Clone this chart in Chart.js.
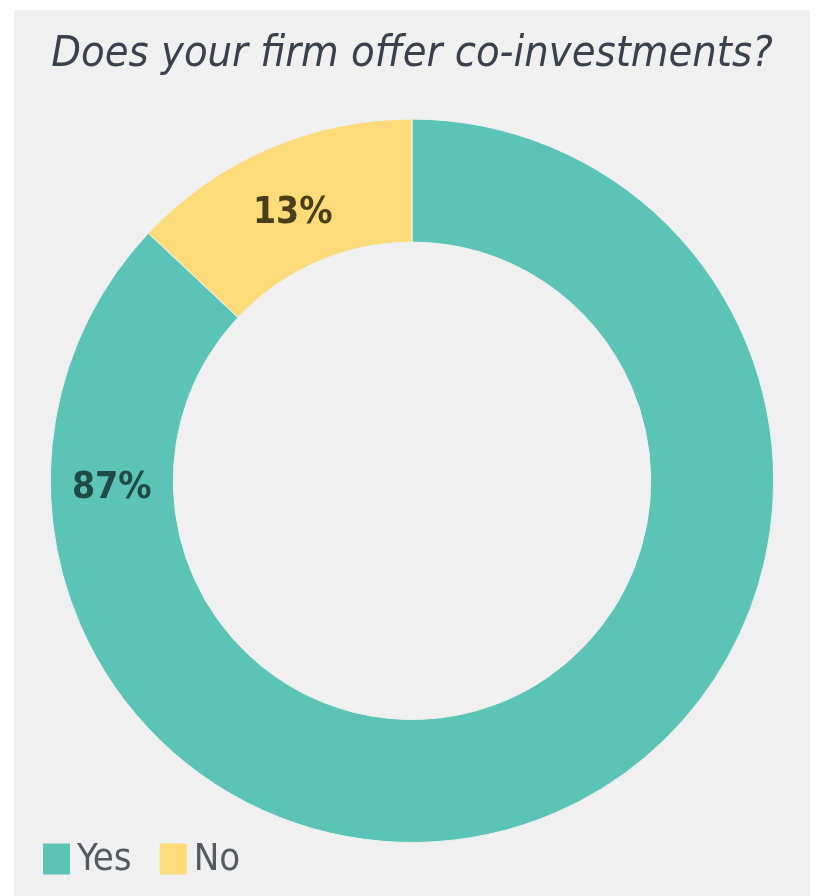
<!DOCTYPE html>
<html>
<head>
<meta charset="utf-8">
<script src="https://cdn.jsdelivr.net/npm/chart.js@4.4.1/dist/chart.umd.min.js"></script>
<style>
  html, body { margin: 0; padding: 0; background: #ffffff; }
  #wrap { width: 837px; height: 896px; position: relative; }
</style>
</head>
<body>
<div id="wrap"><canvas id="c" width="837" height="896"></canvas></div>
<script>
// Survey answers
const categories = ['Yes', 'No'];
const shares = [87, 13];
const valueLabels = ['87%', '13%'];
const sliceColors = ['#5cc4b6', '#fcdb78'];

const NARROW = '"Liberation Sans Narrow", "DejaVu Sans Condensed", "Liberation Sans", sans-serif';

// light grey card behind the chart
const cardPlugin = {
  id: 'card',
  beforeDraw(chart, args, opts) {
    const ctx = chart.ctx;
    ctx.save();
    ctx.fillStyle = opts.color;
    ctx.fillRect(opts.left, opts.top, chart.width - opts.left - opts.right, chart.height - opts.top);
    ctx.restore();
  }
};

// percentage text placed on the ring, at the slice's middle angle
// unless a fixed angle is given for that slice
const ringLabels = {
  id: 'ringLabels',
  afterDatasetsDraw(chart, args, opts) {
    const ctx = chart.ctx;
    const meta = chart.getDatasetMeta(0);
    ctx.save();
    ctx.font = opts.font;
    ctx.textAlign = 'center';
    ctx.textBaseline = 'middle';
    meta.data.forEach((arc, i) => {
      const p = arc.getProps(['x', 'y', 'startAngle', 'endAngle', 'innerRadius', 'outerRadius'], true);
      const fixed = opts.angles[i];
      const a = fixed == null ? (p.startAngle + p.endAngle) / 2 : fixed;
      const r = (p.innerRadius + p.outerRadius) / 2;
      ctx.fillStyle = opts.colors[i];
      ctx.fillText(valueLabels[i], p.x + Math.cos(a) * r + opts.dx, p.y + Math.sin(a) * r + opts.dy);
    });
    ctx.restore();
  }
};

// square-swatch legend in the lower left corner
const cornerLegend = {
  id: 'cornerLegend',
  afterDraw(chart, args, opts) {
    const ctx = chart.ctx;
    const ds = chart.data.datasets[0];
    ctx.save();
    ctx.font = opts.font;
    ctx.textBaseline = 'middle';
    let x = opts.x;
    chart.data.labels.forEach((lab, i) => {
      ctx.fillStyle = ds.backgroundColor[i];
      ctx.fillRect(x, opts.y - opts.boxH / 2, opts.boxW, opts.boxH);
      x += opts.boxW + opts.textGap;
      ctx.fillStyle = opts.color;
      ctx.fillText(lab, x, opts.y + 1);
      x += ctx.measureText(lab).width + opts.gap;
    });
    ctx.restore();
  }
};

new Chart(document.getElementById('c'), {
  type: 'doughnut',
  data: {
    labels: categories,
    datasets: [{
      data: shares,
      backgroundColor: sliceColors,
      borderColor: '#eef0ef',
      borderWidth: 1,
      hoverOffset: 0
    }]
  },
  options: {
    responsive: false,
    animation: false,
    cutout: '66%',
    layout: { padding: { left: 14, right: 27, top: 0, bottom: 53 } },
    plugins: {
      legend: { display: false },
      tooltip: { enabled: false },
      title: {
        display: true,
        text: 'Does your firm offer co-investments?',
        color: '#3b414c',
        font: { family: NARROW, size: 43, style: 'italic', weight: 'normal', lineHeight: 1.2 },
        padding: { top: 29, bottom: 38 }
      },
      card: { color: '#f0f0f0', left: 14, right: 27, top: 10 },
      ringLabels: {
        font: 'bold 37px ' + NARROW,
        colors: ['#1f4a45', '#4a3f1c'],
        angles: [Math.PI, null],
        dx: 0,
        dy: 8
      },
      cornerLegend: {
        x: 43, y: 859, boxW: 27, boxH: 31, textGap: 7, gap: 28,
        font: '38px ' + NARROW,
        color: '#555a60'
      }
    }
  },
  plugins: [cardPlugin, ringLabels, cornerLegend]
});
</script>
</body>
</html>
